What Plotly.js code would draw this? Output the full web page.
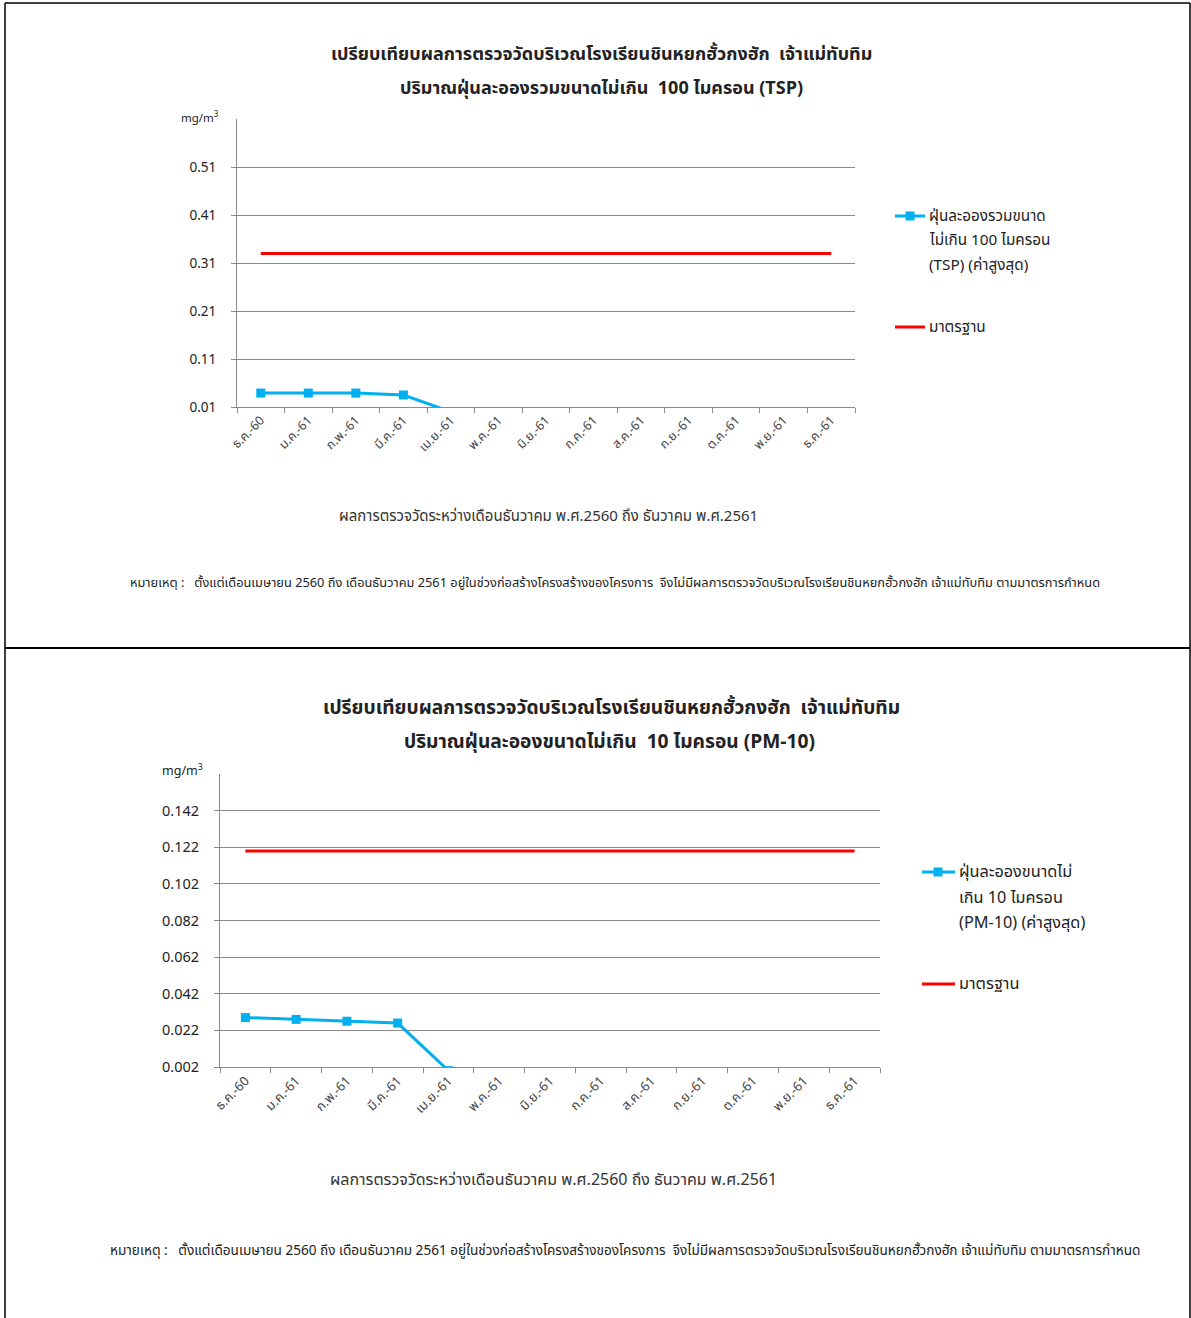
<!DOCTYPE html>
<html>
<head>
<meta charset="utf-8">
<script src="https://cdn.plot.ly/plotly-3.0.1.min.js"></script>
<style>
  html, body { margin: 0; padding: 0; background: #fff; }
  #chart { width: 1191px; height: 1318px; }
</style>
</head>
<body>
<div id="chart"></div>
<script>
// ---- Data ----
const months = ["ธ.ค.-60","ม.ค.-61","ก.พ.-61","มี.ค.-61","เม.ย.-61","พ.ค.-61","มิ.ย.-61","ก.ค.-61","ส.ค.-61","ก.ย.-61","ต.ค.-61","พ.ย.-61","ธ.ค.-61"];
const tspMax = [0.039, 0.039, 0.039, 0.035, 0, null, null, null, null, null, null, null, null];
const tspStandard = [0.33,0.33,0.33,0.33,0.33,0.33,0.33,0.33,0.33,0.33,0.33,0.33,0.33];
const pm10Max = [0.029, 0.028, 0.027, 0.026, 0, null, null, null, null, null, null, null, null];
const pm10Standard = [0.12,0.12,0.12,0.12,0.12,0.12,0.12,0.12,0.12,0.12,0.12,0.12,0.12];
const tspTicks = [0.01, 0.11, 0.21, 0.31, 0.41, 0.51];
const pm10Ticks = [0.002, 0.022, 0.042, 0.062, 0.082, 0.102, 0.122, 0.142];

const titleA = "เปรียบเทียบผลการตรวจวัดบริเวณโรงเรียนชินหยกฮั้วกงฮัก  เจ้าแม่ทับทิม";
const titleTsp = "ปริมาณฝุ่นละอองรวมขนาดไม่เกิน  100 ไมครอน (TSP)";
const titlePm = "ปริมาณฝุ่นละอองขนาดไม่เกิน  10 ไมครอน (PM-10)";
const xTitle = "ผลการตรวจวัดระหว่างเดือนธันวาคม พ.ศ.2560 ถึง ธันวาคม พ.ศ.2561";
const note = "หมายเหตุ :   ตั้งแต่เดือนเมษายน 2560 ถึง เดือนธันวาคม 2561 อยู่ในช่วงก่อสร้างโครงสร้างของโครงการ  จึงไม่มีผลการตรวจวัดบริเวณโรงเรียนชินหยกฮั้วกงฮัก เจ้าแม่ทับทิม ตามมาตรการกำหนด";
const legTsp = ["ฝุ่นละอองรวมขนาด", "ไม่เกิน 100 ไมครอน", "(TSP) (ค่าสูงสุด)"];
const legPm = ["ฝุ่นละอองขนาดไม่", "เกิน 10 ไมครอน", "(PM-10) (ค่าสูงสุด)"];
const legStd = "มาตรฐาน";

// ---- Layout helpers ----
const W = 1191, H = 1318;
const fx = x => x / W;
const fy = y => 1 - y / H;
const FONT = "Tahoma, 'Noto Sans Thai', 'Leelawadee UI', 'DejaVu Sans', sans-serif";
const BLUE = "#00B0F0", RED = "#FF0000", GRID = "#8a8a8a", TXT = "#222";

const traces = [
  { x: months, y: tspStandard, xaxis: "x", yaxis: "y", mode: "lines", name: legStd,
    line: { color: RED, width: 3 }, showlegend: false },
  { x: months, y: tspMax, xaxis: "x", yaxis: "y", mode: "lines+markers", name: legTsp.join(" "),
    line: { color: BLUE, width: 3 }, marker: { symbol: "square", size: 9, color: BLUE }, showlegend: false },
  { x: months, y: pm10Standard, xaxis: "x2", yaxis: "y2", mode: "lines", name: legStd,
    line: { color: RED, width: 3 }, showlegend: false },
  { x: months, y: pm10Max, xaxis: "x2", yaxis: "y2", mode: "lines+markers", name: legPm.join(" "),
    line: { color: BLUE, width: 3 }, marker: { symbol: "square", size: 9, color: BLUE }, showlegend: false }
];

function xAxis(d0, d1, anchor, fs) {
  return {
    domain: [fx(d0), fx(d1)], anchor: anchor, type: "category",
    range: [-0.5, months.length - 0.5], autorange: false,
    showgrid: false, showline: true, linecolor: GRID, linewidth: 1,
    ticks: "outside", ticklen: 5, tickcolor: GRID, tickson: "boundaries",
    tickangle: -45, tickfont: { family: FONT, size: fs, color: "#444" },
    fixedrange: true, zeroline: false
  };
}
function yAxis(top, bottom, range, ticks, anchor, fs) {
  return {
    domain: [fy(bottom), fy(top)], anchor: anchor, range: range, autorange: false,
    tickvals: ticks, ticktext: ticks.map(String),
    showgrid: true, gridcolor: GRID, gridwidth: 1,
    showline: true, linecolor: GRID, linewidth: 1,
    ticks: "outside", ticklen: 5, tickcolor: GRID,
    ticklabelstandoff: 12,
    tickfont: { family: FONT, size: fs, color: TXT },
    zeroline: false, fixedrange: true
  };
}

const ann = [];
function text(t, x, y, size, opts) {
  ann.push(Object.assign({
    text: t, x: fx(x), y: fy(y), xref: "paper", yref: "paper",
    showarrow: false, xanchor: "center", yanchor: "middle",
    font: { family: FONT, size: size, color: TXT }
  }, opts || {}));
}
// top panel texts
text("<b>" + titleA + "</b>", 601, 55, 18);
text("<b>" + titleTsp + "</b>", 601, 88, 18);
text("mg/m<sup>3</sup>", 200, 117, 11.5);
text(xTitle, 548, 516, 15, { font: { family: FONT, size: 15, color: "#333" } });
text(note, 615, 583, 12.8);
legTsp.forEach((t, i) => text(t, 927, 216 + i * 24.5, 15.3, { xanchor: "left" }));
text(legStd, 927, 327, 15.3, { xanchor: "left" });
// bottom panel texts
text("<b>" + titleA + "</b>", 611, 708, 19.2);
text("<b>" + titlePm + "</b>", 609, 742, 19.2);
text("mg/m<sup>3</sup>", 182, 771, 12.5);
text(xTitle, 553, 1180, 16, { font: { family: FONT, size: 16, color: "#333" } });
text(note, 625, 1251, 13.6);
legPm.forEach((t, i) => text(t, 957, 872 + i * 25.5, 16.3, { xanchor: "left" }));
text(legStd, 957, 984, 16.3, { xanchor: "left" });

const shapes = [];
function line(x0, y0, x1, y1, color, width) {
  shapes.push({ type: "line", xref: "paper", yref: "paper",
    x0: fx(x0), y0: fy(y0), x1: fx(x1), y1: fy(y1),
    line: { color: color, width: width } });
}
function sq(cx, cy, s, color) {
  shapes.push({ type: "rect", xref: "paper", yref: "paper",
    x0: fx(cx - s / 2), y0: fy(cy + s / 2), x1: fx(cx + s / 2), y1: fy(cy - s / 2),
    fillcolor: color, line: { width: 0 } });
}
// panel borders
line(5, 3, 1190, 3, "#000", 1.5);
line(5, 3, 5, 1318, "#000", 1.5);
line(1190, 3, 1190, 1318, "#000", 1.5);
line(5, 648, 1190, 648, "#000", 2);
// legend samples
line(895, 216, 925, 216, BLUE, 3); sq(910, 216, 9, BLUE);
line(895, 327, 925, 327, RED, 3);
line(922, 872, 955, 872, BLUE, 3); sq(938, 872, 9, BLUE);
line(922, 984, 955, 984, RED, 3);

const layout = {
  width: W, height: H,
  margin: { l: 0, r: 0, t: 0, b: 0 },
  paper_bgcolor: "#fff", plot_bgcolor: "#fff",
  showlegend: false,
  xaxis: xAxis(237, 855, "y", 12.5),
  yaxis: yAxis(119, 407, [0.01, 0.61], tspTicks, "x", 13.5),
  xaxis2: xAxis(220, 880, "y2", 13),
  yaxis2: yAxis(774, 1067, [0.002, 0.162], pm10Ticks, "x2", 14.5),
  annotations: ann,
  shapes: shapes
};

Plotly.newPlot("chart", traces, layout, { displayModeBar: false, staticPlot: true });
</script>
</body>
</html>
